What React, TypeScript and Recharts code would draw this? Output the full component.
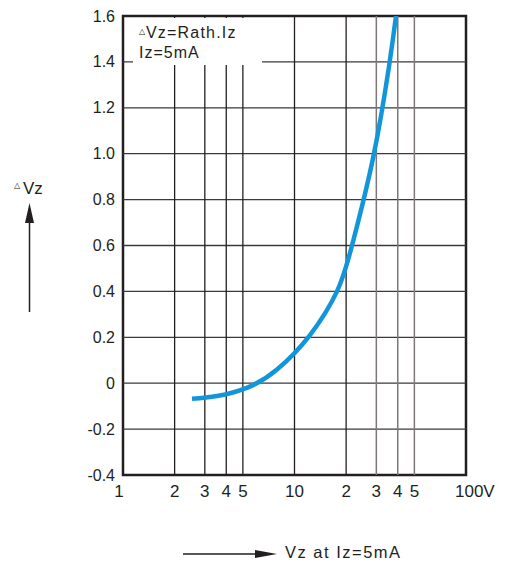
import React from 'react';
import { LineChart, Line, XAxis, YAxis, ReferenceLine, ReferenceArea } from 'recharts';

const FONT = '"Liberation Sans", Arial, Helvetica, sans-serif';

// X axis (log) ticks and labels
const xTicks = [1, 2, 3, 4, 5, 10, 20, 30, 40, 50, 100];
const xTickLabels = ['1', '2', '3', '4', '5', '10', '2', '3', '4', '5', '100V'];
// Vertical grid lines
const xGridDark = [2, 3, 4, 5, 10, 20];
const xGridGray = [30, 40, 50];

// Y axis ticks and labels
const yTicks = [-0.4, -0.2, 0, 0.2, 0.4, 0.6, 0.8, 1.0, 1.2, 1.4, 1.6];
const yTickLabels = ['-0.4', '-0.2', '0', '0.2', '0.4', '0.6', '0.8', '1.0', '1.2', '1.4', '1.6'];
const yGrid = [-0.2, 0, 0.2, 0.4, 0.6, 0.8, 1.0, 1.2, 1.4];

// Curve: Vz at Iz=5mA (V) vs ΔVz (V)
const curveVz = [2.525, 3.533, 5.357, 7.906, 12.31, 17.69, 21.64, 28.69, 35.56, 39.07];
const curveDeltaVz = [-0.068, -0.056, -0.018, 0.06, 0.21, 0.4, 0.6, 0.98, 1.38, 1.6];

const XTick = (props: any) => {
  const { x, y, payload } = props;
  const idx = xTicks.indexOf(payload.value);
  const label = xTickLabels[idx] ?? String(payload.value);
  if (payload.value === 100) {
    return (
      <text x={x - 11} y={y + 14} textAnchor="start" fontSize={17} fontFamily={FONT} fill="#231f20">
        {label}
      </text>
    );
  }
  const dx = payload.value === 1 ? -4 : 0;
  return (
    <text x={x + dx} y={y + 14} textAnchor="middle" fontSize={17} fontFamily={FONT} fill="#231f20">
      {label}
    </text>
  );
};

const YTick = (props: any) => {
  const { x, y, payload } = props;
  const idx = yTicks.findIndex((t) => Math.abs(t - payload.value) < 1e-6);
  const label = yTickLabels[idx] ?? String(payload.value);
  return (
    <text x={x} y={y + 5.5} textAnchor="end" fontSize={16} fontFamily={FONT} fill="#231f20">
      {label}
    </text>
  );
};

export default function App() {
  const data = curveVz.map((v, i) => ({ vz: v, dvz: curveDeltaVz[i] }));
  return (
    <div style={{ position: 'absolute', left: 0, top: 0, width: 509, height: 566, background: '#fff', fontFamily: FONT }}>
      <LineChart width={509} height={566} data={data} margin={{ top: 16, right: 43, left: 0, bottom: 0 }}>
        <XAxis
          dataKey="vz"
          type="number"
          scale="log"
          domain={[1, 100]}
          ticks={xTicks}
          allowDataOverflow
          axisLine={false}
          tickLine={false}
          height={91}
          interval={0}
          tick={XTick}
        />
        <YAxis
          type="number"
          domain={[-0.4, 1.6]}
          ticks={yTicks}
          allowDataOverflow
          width={123}
          axisLine={false}
          tickLine={false}
          interval={0}
          tick={YTick}
        />
        {yGrid.map((v) => (
          <ReferenceLine key={'y' + v} y={v} stroke="#3d3839" strokeWidth={1.3} />
        ))}
        {xGridDark.map((v) => (
          <ReferenceLine key={'xd' + v} x={v} stroke="#231f20" strokeWidth={1.3} />
        ))}
        {xGridGray.map((v) => (
          <ReferenceLine key={'xg' + v} x={v} stroke="#7d7877" strokeWidth={1.5} />
        ))}
        <Line
          type="natural"
          dataKey="dvz"
          stroke="#1296d9"
          strokeWidth={4.5}
          dot={false}
          isAnimationActive={false}
        />
        <ReferenceArea
          x1={1}
          x2={100}
          y1={-0.4}
          y2={1.6}
          fill="none"
          fillOpacity={0}
          stroke="#231f20"
          strokeWidth={2.5}
          strokeOpacity={1}
          ifOverflow="visible"
        />
      </LineChart>
      <svg
        width={509}
        height={566}
        style={{ position: 'absolute', left: 0, top: 0, pointerEvents: 'none' }}
      >
        {/* formula box */}
        <rect x={133} y={18} width={129} height={47} fill="#fff" />
        <text x={139} y={34} fontSize={8} fontFamily={FONT} fill="#231f20">△</text>
        <text x={146} y={38} fontSize={16} fontFamily={FONT} fill="#231f20" letterSpacing={1.2}>Vz=Rath.Iz</text>
        <text x={139} y={58} fontSize={16} fontFamily={FONT} fill="#231f20" letterSpacing={1}>Iz=5mA</text>
        {/* Y annotation */}
        <text x={14} y={188} fontSize={8} fontFamily={FONT} fill="#231f20">△</text>
        <text x={23} y={194} fontSize={17} fontFamily={FONT} fill="#231f20">Vz</text>
        <line x1={29.5} y1={220} x2={29.5} y2={312} stroke="#231f20" strokeWidth={1.5} />
        <polygon points="29.5,203 25,223 34,223" fill="#231f20" />
        {/* X annotation */}
        <line x1={183} y1={554} x2={258} y2={554} stroke="#231f20" strokeWidth={1.5} />
        <polygon points="255,550 277,554 255,558" fill="#231f20" />
        <text x={285} y={558} fontSize={16.5} fontFamily={FONT} fill="#231f20" letterSpacing={1.5}>Vz at Iz=5mA</text>
      </svg>
    </div>
  );
}
